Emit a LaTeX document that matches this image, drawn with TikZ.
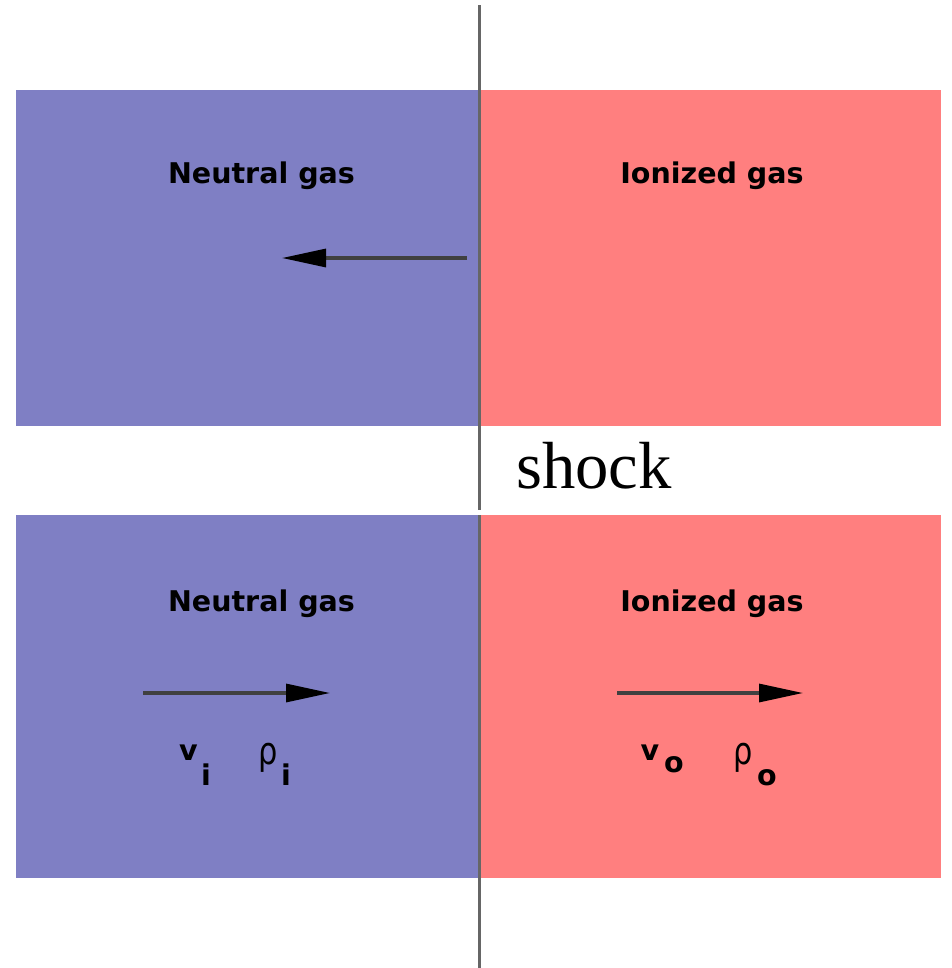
\documentclass[tikz,border=0pt]{standalone}
\usepackage{fontspec}
\setmainfont{DejaVu Sans}
\newfontfamily\shockfont{Liberation Serif}
\usetikzlibrary{arrows.meta}
\definecolor{neutralblue}{RGB}{127,127,196}
\definecolor{ionred}{RGB}{255,127,127}
\begin{document}
\begin{tikzpicture}[x=0.75pt,y=-0.75pt,
  lbl/.style={font=\fontsize{21.4pt}{25pt}\selectfont\bfseries, inner sep=0pt, anchor=base},
  sym/.style={font=\fontsize{21.4pt}{25pt}\selectfont\bfseries, inner sep=0pt, anchor=base},
  rho/.style={font=\fontsize{28.5pt}{32pt}\selectfont, inner sep=0pt, anchor=base},
  flow/.style={line width=2.4pt, draw=black!75, -{Triangle[length=33pt,width=13.5pt,color=black]}},
  shockline/.style={line width=2.25pt, draw=black!60}]
\useasboundingbox (0,0) rectangle (951,968);
% regions
\fill[neutralblue] (16,90) rectangle (479,426);
\fill[ionred] (479,90) rectangle (941,426);
\fill[neutralblue] (16,515) rectangle (479,878);
\fill[ionred] (479,515) rectangle (941,878);
% shock front
\coordinate (s1) at (479,5);
\coordinate (s2) at (479,510);
\coordinate (s3) at (479,515);
\coordinate (s4) at (479,968);
\draw[shockline] (s1) -- (s2);
\draw[shockline] (s3) -- (s4);
\node[font=\shockfont\fontsize{50pt}{56pt}\selectfont, inner sep=0pt, anchor=base west] (shock) at (516,488) {shock};
% labels
\node[lbl] (ng1) at (261.5,183) {Neutral gas};
\node[lbl] (ig1) at (712,183) {Ionized gas};
\node[lbl] (ng2) at (261.5,611) {Neutral gas};
\node[lbl] (ig2) at (712,611) {Ionized gas};
% arrows
\coordinate (a1s) at (467,258);
\coordinate (a1e) at (282,258);
\draw[flow] (a1s) -- (a1e);
\coordinate (a2s) at (143,693);
\coordinate (a2e) at (330,693);
\draw[flow] (a2s) -- (a2e);
\coordinate (a3s) at (617,693);
\coordinate (a3e) at (803,693);
\draw[flow] (a3s) -- (a3e);
% symbols
\node[sym] (vi) at (188.5,760) {v};
\node[sym] (vis) at (206,785) {i};
\node[rho] (ri) at (268.5,764) {\scalebox{0.8}[1]{ρ}};
\node[sym] (ris) at (286,785) {i};
\node[sym] (vo) at (650,760) {v};
\node[sym] (vos) at (674,772) {o};
\node[rho] (ro) at (743.5,764) {\scalebox{0.8}[1]{ρ}};
\node[sym] (ros) at (767,785) {o};
\end{tikzpicture}
\end{document}
